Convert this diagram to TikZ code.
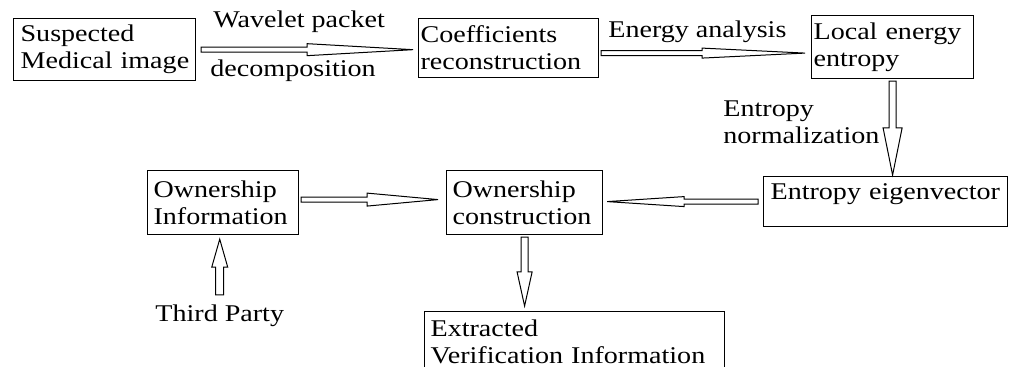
\documentclass[tikz,border=0pt]{standalone}
\usepackage{fontspec}
\setmainfont{Liberation Serif}[FakeStretch=1.17]
\usetikzlibrary{positioning,calc}
\hyphenpenalty=10000
\exhyphenpenalty=10000

\tikzset{
  shaftw/.store in=\shaftw, headw/.store in=\headw, headlen/.store in=\headlen,
  shaftw=1.25pt, headw=3pt, headlen=30pt,
  box/.style={draw, line width=0.6pt, align=left, anchor=north west},
  lbl/.style={inner sep=0pt, anchor=base west},
  blockarrow/.style={draw, line width=0.5pt, fill=white,
    to path={let \p1=(\tikztostart), \p2=(\tikztotarget) in
      ($(\p1)!\shaftw!90:(\p2)$)
      -- ($(\p2)!\headlen!(\p1)!\shaftw!90:(\p2)$)
      -- ($(\p2)!\headlen!(\p1)!\headw!90:(\p2)$)
      -- (\p2)
      -- ($(\p2)!\headlen!(\p1)!\headw!-90:(\p2)$)
      -- ($(\p2)!\headlen!(\p1)!\shaftw!-90:(\p2)$)
      -- ($(\p1)!\shaftw!-90:(\p2)$) -- cycle}}
}

\begin{document}
\begin{tikzpicture}[x=0.5pt,y=0.5pt,
  every node/.style={font=\fontsize{12pt}{13.5pt}\selectfont}]
\useasboundingbox (0,0) rectangle (1019,-367);

% boxes
\node[box, inner xsep=3.5pt, text width=84pt, minimum height=30.5pt] (susp) at (13,-18)
  {Suspected\\Medical~image};
\node[box, inner xsep=1pt, text width=88pt, minimum height=29.5pt] (coef) at (418,-18)
  {Coefficients\\reconstruction};
\node[box, inner xsep=1pt, text width=79pt, minimum height=31.5pt] (local) at (811,-15)
  {Local~energy\\entropy};
\node[box, inner xsep=3.5pt, inner ysep=3.3pt, text width=115pt, text height=8.2pt,
  text depth=10.2pt] (eigen) at (763,-176) {Entropy~eigenvector};
\node[box, inner xsep=3pt, text width=69.5pt, minimum height=32pt] (owninf) at (147,-170)
  {Ownership\\Information};
\node[box, inner xsep=3pt, text width=72pt, minimum height=32pt] (owncon) at (446,-170)
  {Ownership\\construction};
\node[box, inner xsep=3pt, text width=144pt, minimum height=30pt] (extr) at (424,-311)
  {Extracted\\Verification~Information};

% labels
\node[lbl] (wav) at (213,-28) {Wavelet packet};
\node[lbl] (decomp) at (210,-77) {decomposition};
\node[lbl] (enan) at (608,-38) {Energy analysis};
\node[inner sep=0pt, anchor=north west, align=left] (entnorm) at (723,-100)
  {Entropy\\normalization};
\node[lbl] (third) at (155,-322) {Third Party};

% arrows
\draw[blockarrow, headlen=53pt] ([xshift=2.5pt]susp.east)
  to ([xshift=-2.5pt]susp.east -| coef.west);
\draw[blockarrow, headlen=51.5pt, headw=2.5pt] ([xshift=1pt,yshift=-2.5pt]coef.east)
  to ([xshift=-3pt,yshift=-2.5pt]coef.east -| local.west);
\draw[blockarrow, headlen=23.5pt, shaftw=1.75pt, headw=4.75pt] ([yshift=-1pt]local.south)
  to ([yshift=0.5pt]local.south |- eigen.north);
\draw[blockarrow, headlen=38.5pt, headw=2.5pt] ([xshift=-2.5pt]eigen.west)
  to ([xshift=2pt]eigen.west -| owncon.east);
\draw[blockarrow, headlen=35.5pt, headw=3.25pt] ([xshift=1pt,yshift=1.5pt]owninf.east)
  to ([xshift=-4pt,yshift=1.5pt]owninf.east -| owncon.west);
\draw[blockarrow, headlen=17pt, shaftw=1.75pt, headw=3.75pt] ([yshift=-1pt]owncon.south)
  to ([yshift=2.5pt]owncon.south |- extr.north);
\draw[blockarrow, headlen=14pt, shaftw=2pt, headw=4pt] ([yshift=5pt]third.north)
  to ([yshift=-2pt]third.north |- owninf.south);
\end{tikzpicture}
\end{document}
